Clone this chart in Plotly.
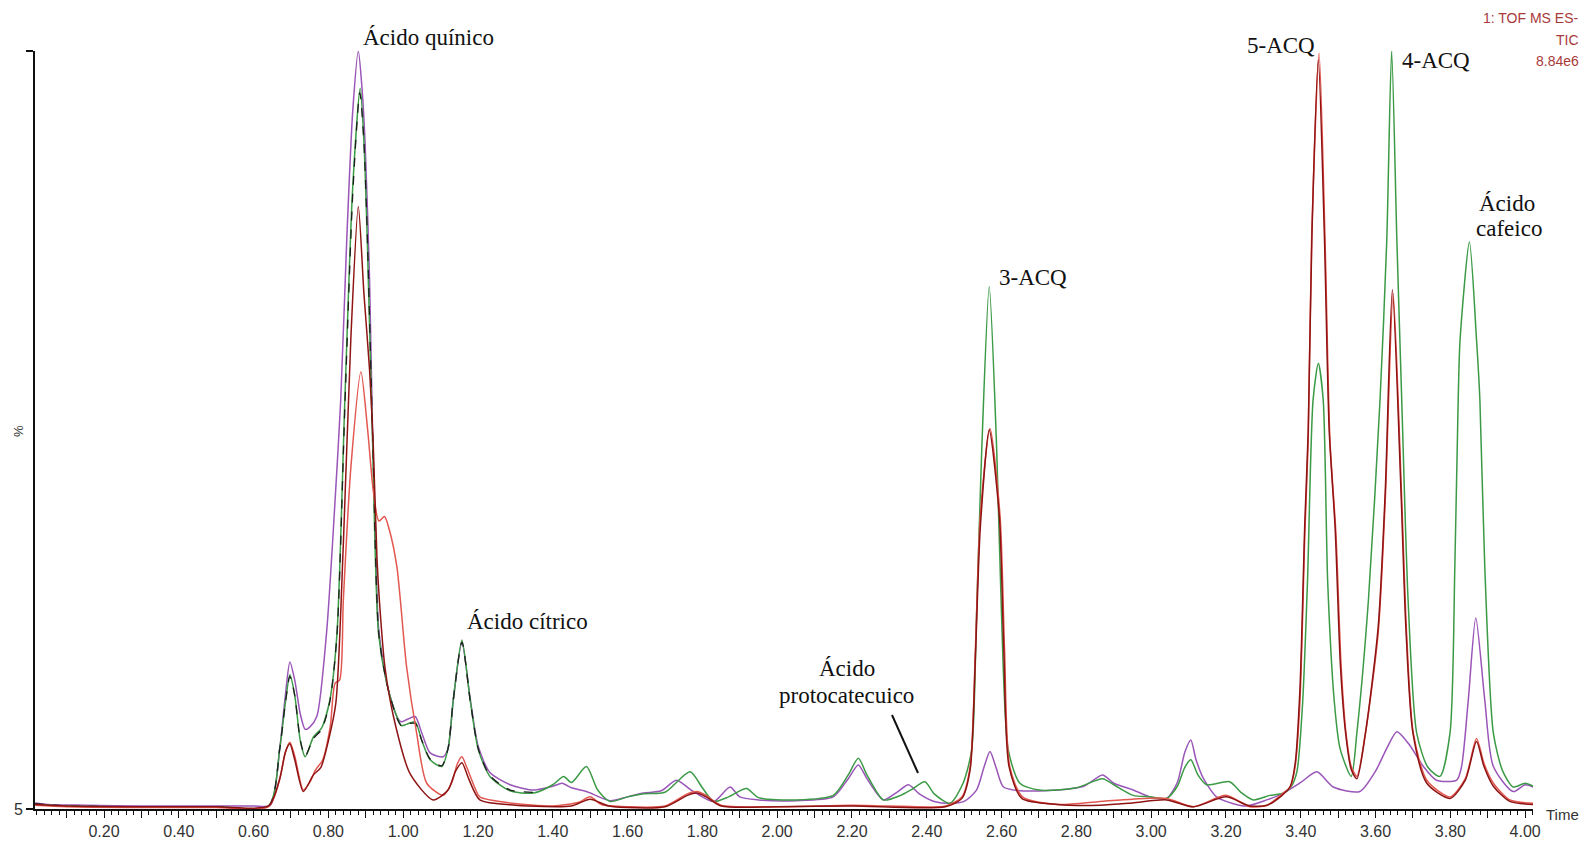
import plotly.graph_objects as go

# ---------------- data (time in min, intensity in %) ----------------
purple_t = [0.016, 0.05, 0.15, 0.3, 0.45, 0.6, 0.645, 0.67, 0.685, 0.697, 0.71, 0.725, 0.738, 0.75, 0.769,
            0.795, 0.818, 0.833, 0.849, 0.865, 0.880, 0.89, 0.898, 0.91, 0.918, 0.925, 0.934, 0.956, 0.983,
            0.995, 1.01, 1.032, 1.05, 1.072, 1.107, 1.12, 1.134, 1.157, 1.179, 1.201, 1.232, 1.286, 1.35,
            1.40, 1.425, 1.45, 1.49, 1.553, 1.60, 1.643, 1.69, 1.731, 1.77, 1.83, 1.874, 1.90, 1.95, 2.05,
            2.15, 2.19, 2.217, 2.24, 2.284, 2.32, 2.351, 2.38, 2.42, 2.462, 2.50, 2.533, 2.553, 2.569, 2.585,
            2.605, 2.65, 2.75, 2.82, 2.87, 2.90, 2.952, 2.997, 3.041, 3.07, 3.09, 3.106, 3.12, 3.14, 3.175,
            3.22, 3.255, 3.309, 3.35, 3.40, 3.443, 3.487, 3.558, 3.60, 3.63, 3.657, 3.69, 3.728, 3.763, 3.817,
            3.83, 3.848, 3.868, 3.892, 3.915, 3.968, 4.0, 4.022]
purple_v = [0.8, 0.6, 0.5, 0.4, 0.4, 0.4, 0.5, 8, 15, 19.4, 17, 12.5, 10.5, 10.8, 12.2,
            23.2, 40.8, 54, 75, 92, 100, 95, 88, 70, 50, 38, 24, 16.6, 12.2,
            11.5, 11.8, 12.2, 10, 7.4, 6.9, 8, 14.4, 22, 14.6, 8.2, 4.8, 3.2, 2.5,
            3.0, 3.4, 2.8, 2.3, 1.1, 1.6, 2.1, 2.4, 3.8, 2.5, 1.0, 2.9, 1.6, 1.2, 1.1,
            1.6, 4, 5.8, 4, 1.2, 2.2, 3.2, 2.0, 1.0, 0.75, 1.0, 2.5, 5.5, 7.6, 5.5,
            2.9, 2.4, 2.5, 3.0, 4.5, 3.4, 2.5, 1.6, 1.4, 3.5, 7.5, 9.1, 6.5, 4.0, 1.6,
            0.7, 0.4, 1.2, 2.0, 3.5, 4.9, 2.9, 2.3, 5, 8, 10.2, 8.5, 5.6, 3.8, 3.8,
            5.6, 14.4, 25.2, 14.4, 5.6, 2.3, 3.2, 2.9]

green_t = [0.016, 0.1, 0.3, 0.5, 0.64, 0.67, 0.685, 0.697, 0.71, 0.725, 0.738, 0.760, 0.782, 0.804, 0.823,
           0.844, 0.865, 0.885, 0.895, 0.904, 0.918, 0.934, 0.956, 0.983, 0.995, 1.01, 1.032, 1.05, 1.072,
           1.103, 1.12, 1.134, 1.157, 1.179, 1.201, 1.232, 1.286, 1.348, 1.40, 1.429, 1.45, 1.49, 1.52,
           1.553, 1.60, 1.643, 1.70, 1.767, 1.80, 1.83, 1.87, 1.918, 1.95, 2.05, 2.15, 2.19, 2.217, 2.24,
           2.284, 2.33, 2.36, 2.395, 2.42, 2.462, 2.497, 2.520, 2.533, 2.547, 2.567, 2.587, 2.600, 2.618,
           2.649, 2.7, 2.8, 2.87, 2.9, 2.952, 2.997, 3.041, 3.07, 3.09, 3.106, 3.125, 3.148, 3.21, 3.24,
           3.273, 3.318, 3.353, 3.375, 3.39, 3.405, 3.418, 3.433, 3.447, 3.46, 3.472, 3.49, 3.505, 3.535,
           3.55, 3.581, 3.612, 3.63, 3.643, 3.657, 3.67, 3.687, 3.71, 3.74, 3.772, 3.799, 3.812, 3.821,
           3.826, 3.851, 3.87, 3.879, 3.892, 3.915, 3.94, 3.968, 4.0, 4.022]
green_v = [0.6, 0.4, 0.3, 0.3, 0.4, 8, 14, 17.7, 15, 9, 6.9, 9.5, 10.7, 14.4, 23.2,
           54, 82, 95.1, 88, 75, 48.7, 23.2, 16.6, 12.2, 11, 11.2, 11.5, 9, 6.5,
           5.6, 8, 14.4, 22.3, 14.4, 7.8, 4.3, 2.4, 2.1, 3.2, 4.3, 3.5, 5.6, 2.5,
           1.0, 1.6, 2.0, 2.2, 4.9, 2.8, 1.0, 1.6, 2.7, 1.5, 1.2, 1.8, 4.5, 6.7, 4.5,
           1.2, 1.8, 2.6, 3.6, 2.0, 0.75, 3.4, 7.8, 25.4, 47.4, 68.9, 47.4, 25.4, 7.8,
           3.4, 2.5, 2.8, 4.0, 3.2, 1.8, 1.6, 1.4, 3, 5.5, 6.5, 4.5, 3.2, 3.6, 2.2,
           1.2, 1.8, 2.1, 3, 5, 14, 30, 54, 58.8, 54, 30, 14, 8, 4.3,
           10, 27.6, 54, 75, 100, 75, 54, 27.6, 10, 5.5, 4.3, 10, 32, 54,
           61.9, 74.8, 61.9, 54, 32, 10, 5, 2.9, 3.4, 3.0]

black_t = [0.016, 0.1, 0.3, 0.5, 0.64, 0.67, 0.685, 0.697, 0.71, 0.725, 0.738, 0.760, 0.782, 0.804, 0.823,
           0.844, 0.865, 0.884, 0.895, 0.905, 0.919, 0.935, 0.957, 0.983, 0.995, 1.01, 1.032, 1.05, 1.072,
           1.103, 1.12, 1.134, 1.157, 1.179, 1.201, 1.232, 1.286, 1.348]
black_v = [0.7, 0.4, 0.3, 0.3, 0.4, 8, 14, 17.5, 15, 9, 7.0, 9.3, 10.5, 14.2, 23,
           53, 81, 94.5, 88, 74, 48, 23, 16.4, 12.0, 11, 11.2, 11.3, 9, 6.6,
           5.7, 8, 14.4, 22.0, 14.4, 7.9, 4.4, 2.5, 2.2]

red_t = [0.016, 0.1, 0.3, 0.5, 0.64, 0.67, 0.685, 0.697, 0.71, 0.733, 0.75, 0.765, 0.785, 0.805, 0.818,
         0.83, 0.84, 0.86, 0.887, 0.905, 0.92, 0.935, 0.95, 0.962, 0.983, 1.009, 1.036, 1.063, 1.107,
         1.13, 1.145, 1.157, 1.17, 1.19, 1.205, 1.286, 1.40, 1.47, 1.50, 1.53, 1.60, 1.70, 1.76, 1.785,
         1.81, 1.85, 2.0, 2.2, 2.3, 2.45, 2.494, 2.516, 2.530, 2.543, 2.569, 2.596, 2.608, 2.622, 2.656,
         2.75, 2.863, 2.95, 3.041, 3.113, 3.2, 3.264, 3.31, 3.353, 3.372, 3.385, 3.398, 3.411, 3.42, 3.429,
         3.449, 3.465, 3.478, 3.494, 3.508, 3.521, 3.535, 3.55, 3.573, 3.607, 3.626, 3.647, 3.67, 3.683,
         3.701, 3.737, 3.799, 3.84, 3.87, 3.89, 3.915, 3.959, 4.022]
red_v = [0.5, 0.3, 0.2, 0.2, 0.3, 4, 7.5, 8.8, 7, 2.5, 3.5, 5.1, 6.5, 10.9, 16.6,
         17, 27.6, 45, 57.7, 50, 42, 38, 38.6, 37, 32, 18.8, 10, 3.4, 1.8,
         3.5, 6, 6.9, 5.5, 3, 1.6, 0.8, 0.4, 0.9, 1.6, 0.6, 0.3, 0.4, 2.0, 2.3,
         1.8, 0.5, 0.3, 0.5, 0.4, 0.4, 1.6, 5.6, 21, 38.6, 50.2, 38.6, 21, 5.6, 1.6,
         0.6, 1.0, 1.3, 1.4, 0.3, 1.8, 0.3, 0.5, 2.1, 2.9, 5.6, 14.4, 36.4, 48.7, 75,
         99.7, 75, 48.7, 36.4, 18.8, 10, 5.6, 4.3, 10, 23.2, 40.8, 68, 40.8, 23.2,
         10, 3.8, 1.6, 4, 9.3, 6, 3.4, 1.2, 0.75]

darkred_t = [0.016, 0.1, 0.3, 0.5, 0.64, 0.67, 0.685, 0.697, 0.71, 0.733, 0.76, 0.78, 0.80, 0.82, 0.84,
             0.86, 0.880, 0.895, 0.91, 0.92, 0.93, 0.94, 0.951, 0.974, 1.018, 1.08, 1.12, 1.14, 1.157,
             1.175, 1.205, 1.3, 1.45, 1.50, 1.55, 1.70, 1.76, 1.785, 1.81, 1.85, 2.0, 2.2, 2.45, 2.494,
             2.516, 2.53, 2.543, 2.567, 2.594, 2.606, 2.62, 2.654, 2.75, 2.863, 2.95, 3.041, 3.113, 3.2,
             3.264, 3.31, 3.35, 3.372, 3.385, 3.398, 3.411, 3.42, 3.43, 3.447, 3.463, 3.476, 3.492, 3.506,
             3.52, 3.535, 3.55, 3.573, 3.607, 3.626, 3.645, 3.668, 3.681, 3.7, 3.737, 3.799, 3.84, 3.87,
             3.89, 3.915, 3.959, 4.022]
darkred_v = [0.6, 0.4, 0.3, 0.3, 0.4, 4, 7.5, 8.6, 6.5, 2.3, 4.5, 5.5, 9, 14, 35,
             62, 79.5, 68, 58, 48, 33, 25, 18.8, 12.2, 4.7, 1.2, 2.5, 5, 6.1,
             4, 1.2, 0.5, 0.4, 1.3, 0.4, 0.3, 1.8, 2.1, 1.6, 0.4, 0.3, 0.4, 0.3, 1.4,
             5.2, 20, 37, 50, 38.6, 21, 5.6, 1.4, 0.6, 0.5, 0.8, 1.2, 0.3, 1.6,
             0.4, 0.5, 1.8, 3, 6, 16, 38, 50, 76, 98.8, 76, 50, 37, 19,
             10, 5.2, 4.0, 10, 24, 42, 68.5, 42, 24, 10, 3.4, 1.4, 3.8, 8.9,
             5.6, 3.0, 1.0, 0.6]

x_tick_vals = [round(0.1 * i, 1) for i in range(1, 41)]
x_tick_text = ["%.2f" % v if i % 2 == 0 else "" for i, v in zip(range(1, 41), x_tick_vals)]
y_tick_vals = [0, 100]
y_tick_text = ["5", ""]

peak_labels = [("Ácido quínico", 428, 37), ("Ácido cítrico", 527, 621), ("Ácido", 847, 668),
               ("protocatecuico", 847, 695), ("3-ACQ", 1033, 277), ("5-ACQ", 1281, 45),
               ("4-ACQ", 1436, 61), ("Ácido", 1507, 203), ("cafeico", 1509, 228)]
header_lines = [("1: TOF MS ES-", 18), ("TIC", 40), ("8.84e6", 61)]

# ---------------- figure ----------------
W, H = 1590, 842
L, R, T, B = 35, 1533, 51, 809


def px(X):
    return (X - L) / (R - L)


def py(Y):
    return (B - Y) / (B - T)


fig = go.Figure()
series = [
    (purple_t, purple_v, "#9a55b8", None, 1.5),
    (green_t, green_v, "#3b9a45", None, 1.5),
    (black_t, black_v, "#1e1e1e", "dash", 1.3),
    (red_t, red_v, "#e2574f", None, 1.5),
    (darkred_t, darkred_v, "#8e1414", None, 1.5),
]
for t, v, c, d, w in series:
    fig.add_trace(go.Scatter(x=t, y=v, mode="lines",
                             line=dict(color=c, width=w, dash=d, shape="spline", smoothing=0.7),
                             showlegend=False, hoverinfo="x+y"))

ann = []
for txt, X, Y in peak_labels:
    ann.append(dict(text=txt, x=px(X), y=py(Y), xref="paper", yref="paper", showarrow=False,
                    xanchor="center", yanchor="middle",
                    font=dict(family="Liberation Serif, Times New Roman, serif", size=23, color="#111")))
for txt, Y in header_lines:
    ann.append(dict(text=txt, x=px(1581), y=py(Y), xref="paper", yref="paper", showarrow=False,
                    xanchor="right", yanchor="middle",
                    font=dict(family="Liberation Sans, Arial, sans-serif", size=14, color="#a83a3a")))
ann.append(dict(text="Time", x=px(1544), y=py(814), xref="paper", yref="paper", showarrow=False,
                xanchor="left", yanchor="middle",
                font=dict(family="Liberation Sans, Arial, sans-serif", size=15, color="#333")))
ann.append(dict(text="%", x=px(18), y=py(431), xref="paper", yref="paper", showarrow=False,
                xanchor="center", yanchor="middle", textangle=-90,
                font=dict(family="Liberation Sans, Arial, sans-serif", size=13, color="#333")))

fig.update_layout(
    template="none",
    width=W, height=H, autosize=False,
    margin=dict(l=L, r=W - R, t=T, b=H - B, pad=0),
    paper_bgcolor="white", plot_bgcolor="white",
    annotations=ann,
    shapes=[dict(type="line", xref="paper", yref="paper", x0=px(892), y0=py(715), x1=px(918), y1=py(773),
                 line=dict(color="#111", width=2))],
    xaxis=dict(range=[0.0155, 4.021], showgrid=False, zeroline=False, showline=True, linecolor="#111",
               linewidth=2, ticks="outside", ticklen=7, tickwidth=1.2, tickcolor="#111",
               tickmode="array", tickvals=x_tick_vals, ticktext=x_tick_text,
               minor=dict(dtick=0.02, tick0=0, ticks="outside", ticklen=4, tickcolor="#111", tickwidth=1),
               tickfont=dict(family="Liberation Sans, Arial, sans-serif", size=16, color="#333"),
               automargin=False),
    yaxis=dict(range=[0, 100], showgrid=False, zeroline=False, showline=True, linecolor="#111",
               linewidth=2, ticks="outside", ticklen=7, tickwidth=1.5, tickcolor="#111",
               tickmode="array", tickvals=y_tick_vals, ticktext=y_tick_text,
               tickfont=dict(family="Liberation Sans, Arial, sans-serif", size=16, color="#333"),
               automargin=False),
)

fig.write_html("out.html")
